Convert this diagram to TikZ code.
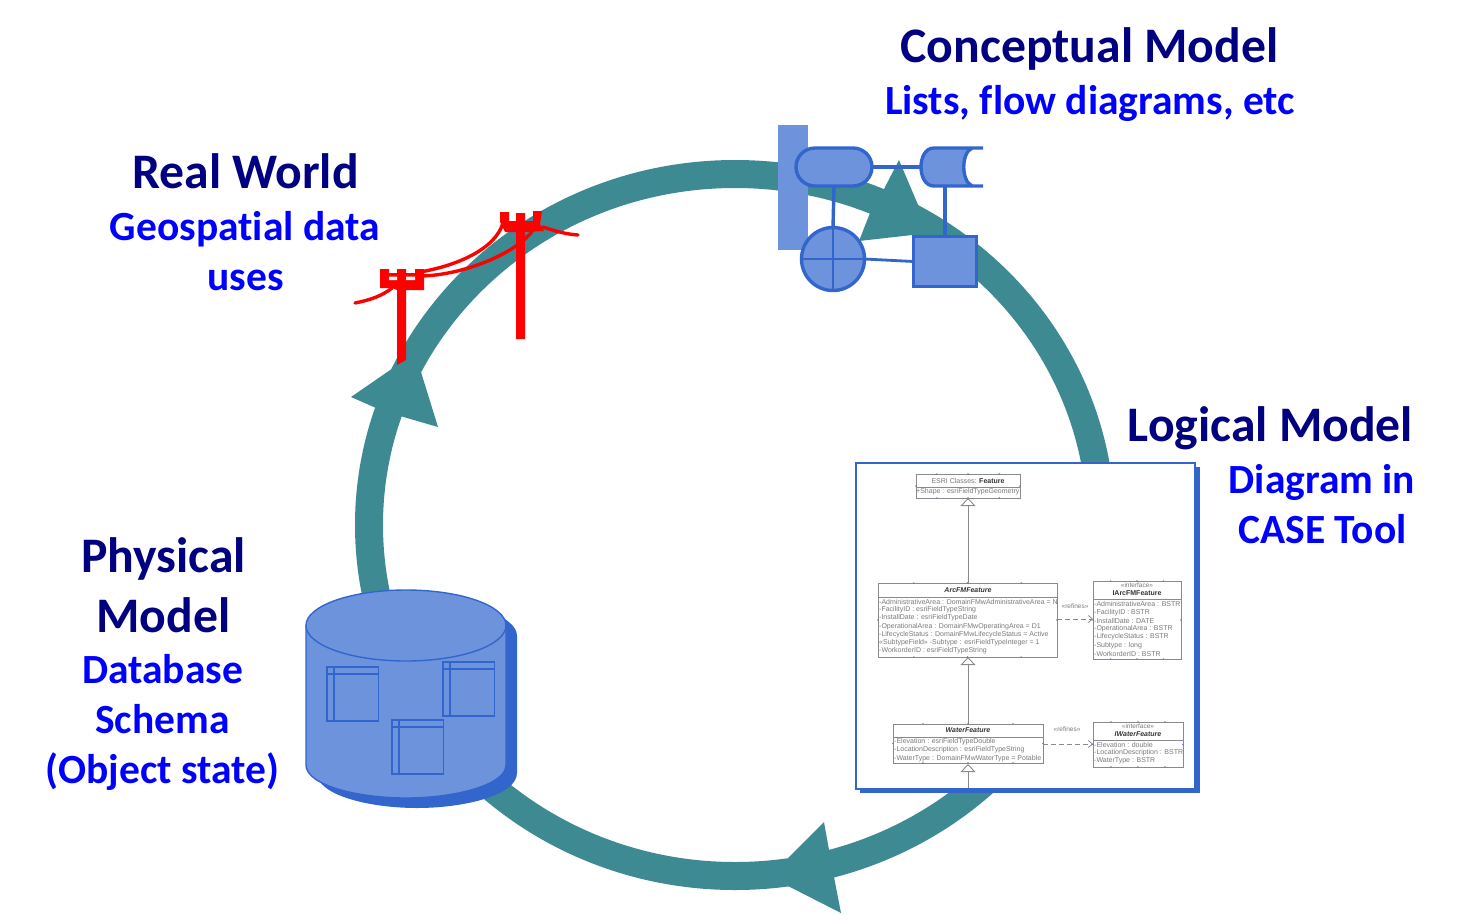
\documentclass[tikz,border=0pt]{standalone}
\usepackage{fontspec}
\setmainfont[Ligatures=NoCommon]{Carlito}
\newfontfamily\umlfont{Liberation Sans}
\usetikzlibrary{arrows.meta,shapes.misc,calc}
\definecolor{ringc}{HTML}{3E8A92}
\definecolor{lightb}{HTML}{6D93DC}
\definecolor{darkb}{HTML}{3366CC}
\definecolor{navyt}{HTML}{000080}
\definecolor{bluet}{HTML}{0000FF}
\definecolor{umlg}{HTML}{8A8A8A}
\definecolor{umlt}{HTML}{7A7A7A}
\definecolor{umlh}{HTML}{7070C8}
\tikzset{
 title/.style={font=\fontsize{49.7}{50}\selectfont\bfseries,text=navyt,inner sep=0pt,anchor=center},
 sub/.style={font=\fontsize{41.5}{42}\selectfont\bfseries,text=bluet,inner sep=0pt,anchor=center},
 shapeb/.style={draw=darkb,fill=lightb,line width=3.4pt,inner sep=0pt,outer sep=0pt},
 link/.style={draw=darkb,line width=3.4pt},
 polewire/.style={draw=red,line width=3.4pt,line cap=round},
 tbl/.style={draw=darkb,line width=1.8pt},
 umlbox/.style={draw=umlg,line width=0.8pt,fill=white,inner sep=0pt,outer sep=0pt,anchor=north west},
 umltxt/.style={font=\umlfont\fontsize{7}{7}\selectfont,text=umlt,inner sep=0pt,anchor=west},
 umlhead/.style={font=\umlfont\fontsize{7}{7}\selectfont\bfseries\itshape,text=black!80,inner sep=0pt},
 umlgen/.style={draw=umlg,line width=0.9pt,-{Triangle[open,length=8pt,width=15pt,fill=white]}},
 umldash/.style={draw=umlg,line width=0.8pt,dash pattern=on 5pt off 3pt,-{Straight Barb[length=4pt,width=7pt]}},
}
\begin{document}
\begin{tikzpicture}[x=1pt,y=-1pt]
\useasboundingbox (0,0) rectangle (1457,914);
% ring
\draw[ringc,line width=28pt] (735,525) ellipse [x radius=366,y radius=351];
\fill[ringc] (351,397) -- (396,366) -- (421,372) -- (438,427) -- (400,416) -- (376,408) -- cycle;
\fill[ringc] (899,160) -- (930,233) -- (859,241) -- (870,213) -- (884,189) -- cycle;
\fill[ringc] (824,822) -- (829,850) -- (834,877) -- (841,913) -- (788,886) -- (788,858) -- cycle;
% conceptual model
\fill[lightb] (778,125) rectangle (808,250);
\node[shapeb,rounded rectangle,minimum width=76pt,minimum height=38pt] (stad) at (834,167) {};
\coordinate (cylL) at (921,167);
\coordinate (cylB) at (945,186);
\path[fill=lightb] (983,148) -- (934,148) .. controls (925,148) and (921,158) .. (921,167) .. controls (921,176) and (925,186) .. (934,186) -- (970,186) .. controls (961,181) and (961,153) .. (970,148) -- cycle;
\draw[link] (983,148) -- (934,148) .. controls (925,148) and (921,158) .. (921,167) .. controls (921,176) and (925,186) .. (934,186) -- (983,186);
\draw[link] (972,148) .. controls (961,153) and (961,181) .. (972,186);
\node[shapeb,circle,minimum size=63pt] (circ) at (833,259) {};
\draw[link,line width=2.8pt] (circ.north) -- (circ.south) (circ.west) -- (circ.east);
\node[shapeb,minimum width=63pt,minimum height=50pt] (sq) at (945,261.5) {};
\draw[link] (stad.east) -- (cylL);
\draw[link] (stad.south) -- (circ.north);
\draw[link] (cylB) -- (sq.north);
\draw[link,line width=2.8pt] (circ.east) -- (sq.west);
% poles
\draw[polewire] (355,303) .. controls (370,300) and (382,296) .. (392,288);
\draw[polewire] (420,272) .. controls (455,266) and (495,250) .. (503,223);
\draw[polewire] (423,276) .. controls (470,274) and (520,250) .. (533,230);
\draw[polewire] (543,227) .. controls (555,231) and (565,234) .. (578,235);
\fill[red] (397,290) -- (397,365) -- (406,360) -- (406,290) -- (424,290) -- (424,269) -- (415,269) -- (415,273) -- (406,273) -- (406,269) -- (397,269) -- (397,273) -- (389,273) -- (389,269) -- (380,269) -- (380,288) -- (392,288) -- cycle;
\fill[white] (389,276.5) rectangle (397,280) (406,276.5) rectangle (415,280);
\fill[red] (516,232) -- (516,339) -- (525,339) -- (525,232) -- (544,231) -- (540,224) -- (542,211) -- (533,211) -- (533,221) -- (525,221) -- (525,213) -- (516,213) -- (516,221) -- (509,221) -- (509,212) -- (500,212) -- (500,222) -- (505,232) -- cycle;
% database
\fill[darkb] (417,636) ellipse [x radius=100,y radius=35.5];
\fill[darkb] (317,636) -- (517,636) -- (517,773) .. controls (517,795) and (465,808) .. (417,808) .. controls (369,808) and (317,795) .. (317,773) -- cycle;
\path[fill=lightb,draw=darkb,line width=1.4pt] (306,626) -- (506,626) -- (506,765) .. controls (506,785) and (455,798) .. (406,798) .. controls (357,798) and (306,785) .. (306,765) -- cycle;
\path[fill=lightb,draw=darkb,line width=1.4pt] (406,625.5) ellipse [x radius=100,y radius=35.5];
\foreach \xa/\ya in {327/667,443/662,392/720}{
 \draw[tbl] (\xa,\ya) rectangle ++(51.5,54);
 \draw[tbl] (\xa,\ya+7) -- ++(51.5,0);
 \draw[tbl] (\xa+7,\ya) -- ++(0,54);
}
% logical card
\fill[darkb] (860,467) rectangle (1199.5,793);
\node[draw=darkb,fill=white,line width=2.2pt,inner sep=0pt,outer sep=0pt,minimum width=339pt,minimum height=326pt,anchor=north west] (card) at (856,463) {};
\node[umlbox,minimum width=104pt,minimum height=24pt] (feat) at (916,474) {};
\node[umlbox,minimum width=179pt,minimum height=74pt] (arc) at (878,583) {};
\node[umlbox,minimum width=88pt,minimum height=78pt] (iarc) at (1093,581) {};
\node[umlbox,minimum width=150pt,minimum height=39pt] (water) at (893,724) {};
\node[umlbox,minimum width=90pt,minimum height=45pt] (iwater) at (1093,722) {};
\draw[draw=umlg,line width=.8pt] (916,487) -- (1020,487) (878,597) -- (1057,597) (1093,599) -- (1181,599) (893,737) -- (1043,737) (1093,740) -- (1183,740);
\coordinate (cardb) at (968,788);
\draw[umlgen] (arc.north -| 968,0) -- (968,498);
\draw[umlgen] (water.north -| 968,0) -- (968,657);
\draw[umlgen] (cardb) -- (968,764);
\draw[umldash] (arc.east |- 0,619) -- (iarc.west |- 0,619);
\draw[umldash] (water.east |- 0,744) -- (iwater.west |- 0,744);
% selection handles
\foreach \b in {feat,arc,iarc,water,iwater}{
 \foreach \t in {0.2,0.5,0.8}{
  \fill[umlh] ($(\b.north west)!\t!(\b.north east)$) circle (0.8pt);
  \fill[umlh] ($(\b.south west)!\t!(\b.south east)$) circle (0.8pt);
 }
 \fill[umlh] (\b.west) circle (0.8pt);
 \fill[umlh] (\b.east) circle (0.8pt);
}
\node[font=\umlfont\fontsize{7}{7}\selectfont,text=umlt,inner sep=0pt] (h1) at (968,480.5) {ESRI Classes: \textbf{\textcolor{black!80}{Feature}}};
\node[umltxt] (a0) at (916,492) {+Shape : esriFieldTypeGeometry};
\node[umlhead] (h2) at (968,590) {ArcFMFeature};
\node[umltxt] (a1) at (879,601.5) {-AdministrativeArea : DomainFMwAdministrativeArea = N};
\node[umltxt] (a2) at (879,610) {-FacilityID : esriFieldTypeString};
\node[umltxt] (a3) at (879,618) {-InstallDate : esriFieldTypeDate};
\node[umltxt] (a4) at (879,626.5) {-OperationalArea : DomainFMwOperatingArea = D1};
\node[umltxt] (a5) at (879,634.5) {-LifecycleStatus : DomainFMwLifecycleStatus = Active};
\node[umltxt] (a6) at (879,643) {«SubtypeField» -Subtype : esriFieldTypeInteger = 1};
\node[umltxt] (a7) at (879,651) {-WorkorderID : esriFieldTypeString};
\node[font=\umlfont\fontsize{6.5}{6.5}\selectfont,text=umlt,inner sep=0pt] (r1) at (1075,606) {«refines»};
\node[font=\umlfont\fontsize{6.5}{6.5}\selectfont,text=umlt,inner sep=0pt] (i1) at (1137,585.5) {«interface»};
\node[font=\umlfont\fontsize{7}{7}\selectfont\bfseries,text=black!80,inner sep=0pt] (h3) at (1137,593.5) {IArcFMFeature};
\node[umltxt] (b1) at (1094,604) {-AdministrativeArea : BSTR};
\node[umltxt] (b2) at (1094,612.5) {-FacilityID : BSTR};
\node[umltxt] (b3) at (1094,620.5) {-InstallDate : DATE};
\node[umltxt] (b4) at (1094,629) {-OperationalArea : BSTR};
\node[umltxt] (b5) at (1094,637) {-LifecycleStatus : BSTR};
\node[umltxt] (b6) at (1094,645.5) {-Subtype : long};
\node[umltxt] (b7) at (1094,654) {-WorkorderID : BSTR};
\node[umlhead] (h4) at (968,730.5) {WaterFeature};
\node[umltxt] (c1) at (894,742) {-Elevation : esriFieldTypeDouble};
\node[umltxt] (c2) at (894,750) {-LocationDescription : esriFieldTypeString};
\node[umltxt] (c3) at (894,758.5) {-WaterType : DomainFMwWaterType = Potable};
\node[font=\umlfont\fontsize{6.5}{6.5}\selectfont,text=umlt,inner sep=0pt] (r2) at (1067,729.5) {«refines»};
\node[font=\umlfont\fontsize{6.5}{6.5}\selectfont,text=umlt,inner sep=0pt] (i2) at (1138,726) {«interface»};
\node[umlhead] (h5) at (1138,734) {IWaterFeature};
\node[umltxt] (d1) at (1094,744.5) {-Elevation : double};
\node[umltxt] (d2) at (1094,753) {-LocationDescription : BSTR};
\node[umltxt] (d3) at (1094,761) {-WaterType : BSTR};
% titles
\node[title] (t1) at (1089.5,49) {Conceptual Model};
\node[sub] (s1) at (1090,103) {Lists, flow diagrams, etc};
\node[title] (t2) at (245.5,171.5) {Real World};
\node[sub] (s2a) at (245,229) {Geospatial data};
\node[sub] (s2b) at (245.5,280) {uses};
\node[title] (t3) at (1270.5,428.5) {Logical Model};
\node[sub] (s3a) at (1322,482) {Diagram in};
\node[sub] (s3b) at (1322.5,529) {CASE Tool};
\node[title] (t4) at (163.5,559) {Physical};
\node[title] (t5) at (163.5,615) {Model};
\node[sub] (s4a) at (162.5,669) {Database};
\node[sub] (s4b) at (162.5,719) {Schema};
\node[sub] (s4c) at (162.5,772) {(Object state)};
\end{tikzpicture}
\end{document}
